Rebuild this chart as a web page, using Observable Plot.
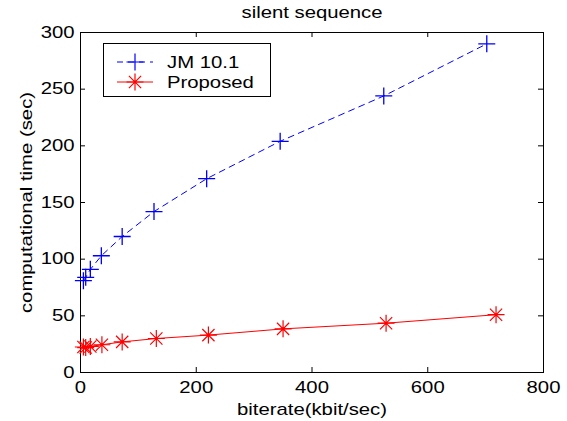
<!DOCTYPE html>
<html>
<head>
<meta charset="utf-8">
<script src="https://cdn.jsdelivr.net/npm/d3@7"></script>
<script src="https://cdn.jsdelivr.net/npm/@observablehq/plot@0.6"></script>
<style>
  html, body { margin: 0; padding: 0; background: #fff; }
  #chart svg { display: block; }
</style>
</head>
<body>
<div id="chart"></div>
<script>
// ---- data ----
const title = "silent sequence";
const xLabel = "biterate(kbit/sec)";
const yLabel = "computational time (sec)";
const seriesNames = ["JM 10.1", "Proposed"];

const jmBitrate = [5, 9, 17, 36, 72, 127, 218, 345, 524, 702];
const jmTime    = [81, 84, 91, 103, 120, 142, 171, 204, 244, 290];

const propBitrate = [5, 9, 17, 37, 72, 131, 221, 350, 528, 718];
const propTime    = [22.5, 22, 23, 24.5, 27, 30, 33, 38.5, 43.5, 51];

const xTicks = [0, 200, 400, 600, 800];
const yTicks = [0, 50, 100, 150, 200, 250, 300];

// ---- build ----
const jm = jmBitrate.map((x, i) => ({x, y: jmTime[i]}));
const prop = propBitrate.map((x, i) => ({x, y: propTime[i]}));

const plusSymbol = {
  draw(ctx, size) {
    const r = Math.sqrt(size / Math.PI);
    ctx.moveTo(-r, 0); ctx.lineTo(r, 0);
    ctx.moveTo(0, -r); ctx.lineTo(0, r);
  }
};
const starSymbol = {
  draw(ctx, size) {
    const r = Math.sqrt(size / Math.PI);
    const d = r * 0.72;
    ctx.moveTo(-r, 0); ctx.lineTo(r, 0);
    ctx.moveTo(0, -r); ctx.lineTo(0, r);
    ctx.moveTo(-d, -d); ctx.lineTo(d, d);
    ctx.moveTo(-d, d); ctx.lineTo(d, -d);
  }
};

const W = 567, H = 421, mL = 80, mR = 24, mT = 32, mB = 49;
const fw = W - mL - mR, fh = H - mT - mB, tk = 5;
const BLUE = "#0000ff", RED = "#ff0000";

const chart = Plot.plot({
  width: W, height: H,
  marginLeft: mL, marginRight: mR, marginTop: mT, marginBottom: mB,
  style: {fontFamily: "'Liberation Sans', Arial, sans-serif", fontSize: "16px", color: "#000", background: "#fff", overflow: "visible"},
  x: {domain: [0, 800]},
  y: {domain: [0, 300]},
  marks: [
    Plot.frame({stroke: "#000", strokeWidth: 1}),
    Plot.tickX(xTicks, {x: d => d, insetTop: fh - tk, stroke: "#000"}),
    Plot.tickX(xTicks, {x: d => d, insetBottom: fh - tk, stroke: "#000"}),
    Plot.tickY(yTicks, {y: d => d, insetRight: fw - tk, stroke: "#000"}),
    Plot.tickY(yTicks, {y: d => d, insetLeft: fw - tk, stroke: "#000"}),
    Plot.axisX(xTicks, {tickSize: 0, tickPadding: 9, label: null, fill: "#000"}),
    Plot.axisY(yTicks, {tickSize: 0, tickPadding: 6, label: null, fill: "#000"}),
    Plot.line(jm, {x: "x", y: "y", stroke: BLUE, strokeWidth: 1, strokeDasharray: "6,5"}),
    Plot.dot(jm, {x: "x", y: "y", symbol: plusSymbol, r: 8.5, stroke: BLUE, fill: "none", strokeWidth: 1.3}),
    Plot.line(prop, {x: "x", y: "y", stroke: RED, strokeWidth: 1}),
    Plot.dot(prop, {x: "x", y: "y", symbol: starSymbol, r: 8.5, stroke: RED, fill: "none", strokeWidth: 1.2}),
    Plot.text([title], {text: d => d, frameAnchor: "top", textAnchor: "middle", lineAnchor: "bottom", dy: -15, fill: "#000"}),
    Plot.text([xLabel], {text: d => d, frameAnchor: "bottom", textAnchor: "middle", lineAnchor: "bottom", dy: 42, fill: "#000"}),
    Plot.text([yLabel], {text: d => d, frameAnchor: "left", textAnchor: "middle", lineAnchor: "middle", rotate: -90, dx: -54, fill: "#000"})
  ]
});

// ---- legend ----
const svg = d3.select(chart);
const lg = svg.append("g").attr("class", "legend").attr("text-anchor", "start");
lg.append("rect").attr("x", 103.5).attr("y", 43.5).attr("width", 167).attr("height", 53)
  .attr("fill", "#fff").attr("stroke", "#000").attr("stroke-width", 1);
const entries = [
  {name: seriesNames[0], color: BLUE, dash: "6,5", sym: plusSymbol, y: 62},
  {name: seriesNames[1], color: RED, dash: null, sym: starSymbol, y: 82}
];
entries.forEach(e => {
  lg.append("line").attr("x1", 117).attr("x2", 153).attr("y1", e.y).attr("y2", e.y)
    .attr("stroke", e.color).attr("stroke-dasharray", e.dash);
  lg.append("path").attr("transform", `translate(135,${e.y})`)
    .attr("d", d3.symbol(e.sym, 8.5 * 8.5 * Math.PI)())
    .attr("stroke", e.color).attr("fill", "none").attr("stroke-width", 1.2);
  lg.append("text").attr("transform", `translate(167,${e.y})`).attr("dy", "0.35em")
    .attr("text-anchor", "start").attr("font-size", 16).attr("fill", "#000").text(e.name);
});

// widen glyphs horizontally (along text direction) like the reference rendering
const S = 1.27;
chart.querySelectorAll("text").forEach(t => {
  const tr = t.getAttribute("transform");
  if (tr) t.setAttribute("transform", tr + ` scale(${S},1)`);
  else {
    const x = +t.getAttribute("x") || 0;
    t.setAttribute("transform", `translate(${x * (1 - S)},0) scale(${S},1)`);
  }
});

document.getElementById("chart").append(chart);
</script>
</body>
</html>
